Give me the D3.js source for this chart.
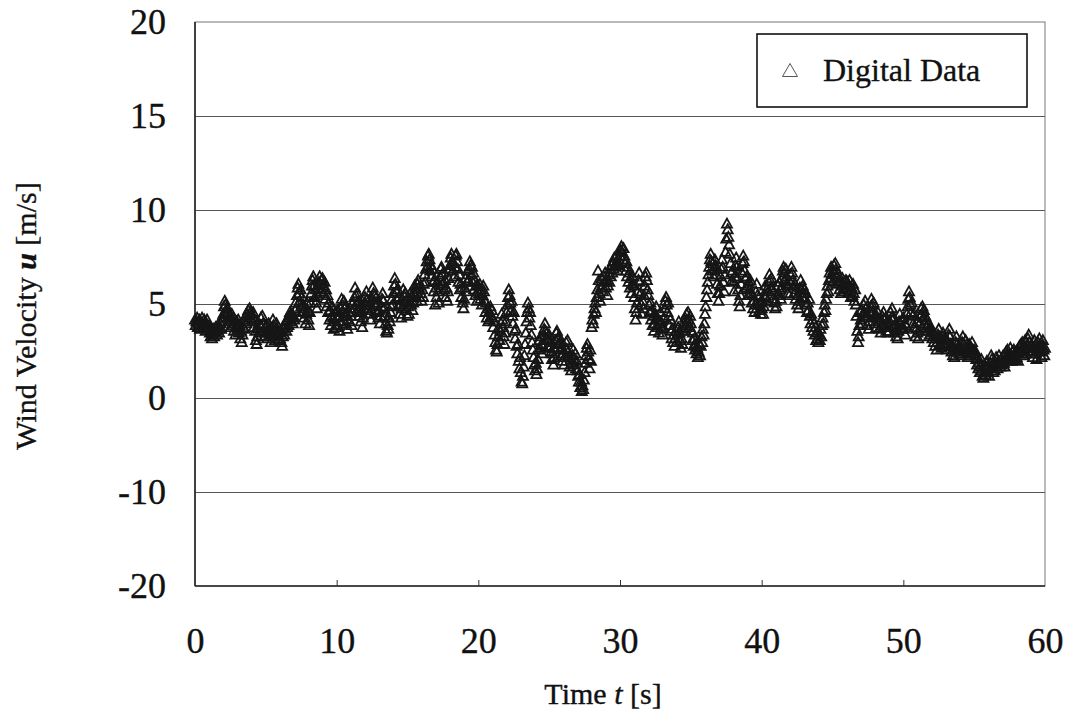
<!DOCTYPE html>
<html>
<head>
<meta charset="utf-8">
<script src="https://cdn.jsdelivr.net/npm/d3@7/dist/d3.min.js"></script>
<style>
  html, body { margin: 0; padding: 0; background: #fff; }
  svg { display: block; font-family: "Liberation Serif", "Times New Roman", serif; }
  text { stroke: #111; stroke-width: 0.35px; }
</style>
</head>
<body>
<svg id="chart" width="1071" height="719"></svg>
<script>
// Wind velocity record, sampled every 0.05 s from t = 0 s to t = 60 s (one row per second)
const timeStart = 0;
const timeStep = 0.05;
const velocity = [
  4.2,3.9,4.1,4.3,3.8,4.0,4.2,3.7,4.1,3.9,4.3,4.0,3.8,4.2,3.9,3.6,4.0,4.2,3.8,3.7,
  3.9,3.5,3.3,3.6,3.2,3.4,3.7,3.3,3.5,3.8,3.6,3.4,3.9,3.7,3.5,3.8,4.0,3.7,4.1,4.3,
  4.5,4.9,5.2,5.0,4.6,4.8,4.3,4.6,4.1,4.4,3.8,4.2,4.5,3.9,4.3,3.6,4.0,3.4,3.8,4.1,
  3.7,4.2,3.5,3.9,3.2,3.6,3.0,3.4,3.8,4.1,3.7,4.3,4.0,4.5,4.2,4.7,4.4,4.8,4.6,4.3,
  4.5,4.1,4.6,3.8,4.2,3.6,3.1,2.9,3.3,3.7,4.0,3.5,3.9,4.3,3.8,4.4,4.0,3.6,3.3,3.8,
  3.5,3.9,3.2,3.6,4.0,3.7,3.3,3.0,3.4,3.8,4.2,3.9,3.5,3.1,3.6,4.0,3.7,3.4,3.1,3.5,
  3.2,3.6,3.0,2.8,3.3,3.7,3.4,3.9,4.1,3.6,3.8,4.2,3.9,4.4,4.6,4.1,4.5,4.3,4.0,4.4,
  4.2,4.7,5.1,4.8,5.5,5.9,6.1,5.6,5.2,5.8,4.9,5.4,4.6,5.0,4.3,4.8,4.0,4.5,5.1,4.7,
  4.2,3.9,4.6,5.1,5.6,6.0,6.3,6.5,6.0,5.4,5.8,5.1,4.8,5.5,5.9,6.2,6.5,6.1,5.7,6.3,
  6.4,6.0,5.6,6.2,5.3,5.8,4.9,5.5,4.6,5.1,4.2,4.7,3.9,4.4,4.9,4.3,3.7,4.1,4.6,3.8,
  4.3,4.7,3.9,4.4,3.6,4.1,4.8,5.3,5.0,4.6,5.2,4.4,4.9,4.0,4.5,3.7,4.2,4.6,4.1,4.8,
  4.4,3.9,4.6,5.1,4.8,5.4,5.9,5.5,5.0,5.6,4.7,5.2,4.4,4.9,4.1,4.6,3.8,4.3,4.8,5.1,
  5.4,5.0,5.7,5.3,4.8,5.2,4.5,5.0,4.2,4.7,5.3,5.9,5.6,5.1,5.5,4.9,5.4,4.6,5.1,4.3,
  4.7,4.0,4.4,4.9,5.3,5.6,5.2,4.8,4.4,4.0,3.6,3.5,3.9,3.7,4.3,4.1,4.6,4.9,5.3,5.0,
  5.6,6.0,6.4,6.1,5.7,5.3,5.8,4.9,5.4,4.5,5.0,4.3,4.8,5.3,5.8,5.5,5.1,5.6,4.7,5.2,
  4.4,4.9,4.5,5.2,5.6,5.0,5.4,4.7,5.1,5.7,6.0,5.5,5.8,5.2,6.1,6.3,5.9,5.4,6.0,5.6,
  5.2,5.8,5.4,6.1,6.6,6.2,6.9,7.3,7.0,7.6,7.7,7.4,6.8,7.1,6.5,6.9,6.2,5.7,6.3,5.0,
  5.9,5.4,6.2,5.7,5.1,6.0,6.5,6.9,7.0,6.6,6.1,6.7,5.8,6.3,5.4,5.9,5.2,5.7,6.4,6.9,
  7.1,7.5,7.7,7.3,6.8,7.2,6.5,7.0,7.6,7.7,7.3,6.9,6.2,6.6,5.8,6.1,5.4,5.9,5.1,4.8,
  5.3,5.9,6.4,5.7,6.2,6.8,6.3,6.9,7.3,7.1,6.6,7.0,6.2,6.7,5.8,6.3,5.5,6.0,5.2,5.7,
  6.0,5.6,6.1,5.3,5.8,5.0,5.5,6.0,5.7,5.2,4.6,5.1,4.3,4.8,4.1,4.6,4.2,4.9,4.4,4.7,
  4.3,3.8,4.1,3.4,3.0,2.6,2.5,2.9,3.3,3.7,3.1,3.6,4.0,4.5,4.2,3.8,3.3,2.9,3.5,4.1,
  4.6,5.0,5.4,5.8,5.5,5.1,4.7,5.2,4.4,4.0,4.6,3.6,3.2,3.7,2.8,2.4,2.9,2.0,1.6,2.2,
  1.4,0.9,0.8,1.2,1.7,2.3,2.9,3.5,4.1,4.6,5.1,4.8,4.3,4.6,3.9,3.4,3.0,2.6,2.2,1.8,
  1.5,1.9,1.3,1.6,2.1,2.6,3.1,2.7,3.3,2.9,2.4,2.8,3.4,3.7,4.0,3.6,3.2,3.5,2.8,3.1,
  3.4,2.7,3.0,2.5,2.1,2.4,1.8,2.2,2.7,3.1,3.5,3.6,3.2,2.9,3.3,2.6,3.0,2.3,2.7,2.0,
  2.4,1.8,2.2,2.7,3.0,2.6,3.1,2.5,2.2,1.7,2.0,1.5,1.9,2.3,2.6,2.1,1.8,2.4,1.6,2.0,
  1.5,1.2,0.9,1.3,0.6,0.9,0.4,0.7,0.5,1.0,1.4,1.9,2.3,2.7,2.9,2.5,2.1,1.6,2.6,2.0,
  3.8,4.2,4.0,4.5,4.8,5.1,4.6,5.4,5.8,6.8,6.3,5.6,5.2,5.9,6.4,6.0,5.7,6.5,6.2,6.7,
  5.9,6.3,5.5,6.0,6.6,6.2,6.9,6.5,7.1,6.7,7.3,6.9,7.5,7.0,7.2,7.6,7.3,6.8,7.4,7.1,
  7.6,7.9,8.1,7.8,7.4,8.0,7.6,7.2,6.8,7.3,6.5,7.0,6.2,6.7,5.9,6.4,5.6,6.1,6.5,6.0,
  5.4,4.8,4.2,4.6,5.1,5.7,6.3,6.7,6.2,5.6,5.0,4.5,5.2,4.8,5.5,6.0,6.5,6.7,6.3,5.8,
  5.5,5.0,4.6,5.1,4.2,4.7,3.9,4.4,3.6,4.0,4.5,4.9,4.3,3.8,4.2,3.5,4.0,4.6,4.1,3.7,
  3.4,3.8,4.3,4.8,5.2,5.4,5.0,4.6,5.1,4.4,3.9,4.2,3.6,3.2,3.7,3.0,3.4,2.8,3.2,3.6,
  3.0,3.4,3.8,4.1,3.5,3.1,2.7,3.2,2.9,3.6,4.0,3.7,4.3,3.9,4.5,4.1,4.6,4.2,3.8,4.4,
  4.0,3.6,3.1,3.5,2.8,3.2,2.6,2.9,2.4,2.7,2.2,2.5,2.9,2.3,2.8,3.3,3.0,3.7,3.4,4.0,
  4.5,4.9,5.4,5.8,6.2,6.6,7.0,7.4,7.7,7.3,6.8,7.2,6.5,6.9,7.4,7.1,6.6,6.1,5.6,5.2,
  5.6,6.0,6.5,6.9,7.4,7.0,6.2,5.7,6.6,7.8,8.5,9.3,9.0,8.6,8.2,7.7,7.2,6.7,6.3,6.8,
  6.2,5.7,6.5,7.1,7.5,7.0,6.4,5.8,5.2,4.9,5.5,6.1,6.7,7.2,7.6,7.3,6.8,6.4,5.9,6.5,
  6.0,5.5,6.2,5.8,6.3,5.6,5.1,5.5,4.8,5.2,4.6,5.0,5.7,6.1,5.5,5.0,5.4,4.7,5.1,4.5,
  4.8,5.2,4.5,4.9,5.5,6.0,5.4,5.8,5.2,5.7,6.2,6.6,6.3,5.9,6.4,5.8,5.3,5.7,5.1,4.8,
  5.2,4.9,5.5,6.0,5.6,6.2,5.8,5.3,5.9,6.4,6.8,7.0,6.7,6.3,6.9,6.5,6.1,5.6,6.0,5.5,
  6.2,6.6,7.0,6.7,6.3,6.0,5.6,6.1,5.3,5.8,5.0,5.5,4.8,5.2,5.9,6.3,5.8,5.4,6.0,5.6,
  5.8,5.3,5.6,5.0,4.6,5.1,4.7,5.3,4.4,4.0,4.5,3.8,4.2,3.6,4.0,3.4,3.8,3.1,3.5,3.2,
  3.0,3.4,3.1,3.7,3.3,3.9,4.3,4.0,4.6,5.0,4.7,5.3,5.6,6.0,5.7,6.3,6.7,6.4,7.0,6.6,
  6.2,6.8,7.1,6.7,7.2,6.9,6.5,6.1,6.6,6.3,5.8,6.2,5.6,6.0,6.4,6.1,5.7,6.2,5.9,6.3,
  5.8,6.2,5.6,6.0,6.3,5.7,5.4,5.9,5.5,6.1,5.6,5.2,5.8,5.0,4.4,3.6,3.0,3.3,3.9,4.6,
  4.2,4.7,4.0,4.5,5.0,4.6,5.2,4.8,4.3,3.9,4.4,3.7,4.1,4.6,4.9,5.3,5.0,4.6,5.1,4.4,
  4.0,4.5,3.8,4.3,4.6,4.1,3.7,4.2,3.5,3.9,4.4,4.0,4.6,4.2,3.8,4.3,3.6,4.1,3.5,3.9,
  3.6,4.1,4.6,4.3,4.8,4.2,3.8,4.3,3.5,4.0,3.3,3.7,3.2,3.6,4.1,4.5,4.0,3.7,4.2,3.8,
  4.3,3.7,4.0,3.4,3.9,4.5,4.9,5.3,5.7,5.4,5.0,4.6,5.1,4.4,4.0,4.5,3.8,3.3,3.7,4.1,
  3.5,3.2,3.6,4.0,4.4,4.8,4.5,4.9,4.3,4.7,4.0,4.4,3.8,4.2,3.6,3.9,3.3,3.7,3.4,3.8,
  3.6,3.2,3.5,3.0,3.4,2.8,3.2,2.6,3.0,3.4,3.7,3.3,2.9,3.2,2.7,3.1,3.5,3.1,2.8,3.2,
  2.8,3.1,2.6,3.0,3.4,3.7,3.3,2.9,2.5,2.8,2.3,2.7,2.2,2.6,3.0,3.3,2.9,2.5,2.8,2.4,
  2.7,2.3,2.6,3.0,3.3,2.9,2.5,2.8,3.1,2.7,2.4,2.2,2.6,2.9,2.5,2.3,2.7,3.0,2.6,2.4,
  2.6,2.3,2.5,2.1,1.8,2.2,1.6,1.9,1.4,1.7,2.1,1.5,1.2,1.1,1.4,1.8,1.3,1.6,2.0,1.7,
  1.4,1.2,1.6,1.9,2.3,2.1,1.7,1.4,1.8,1.5,1.9,2.2,1.8,1.6,2.0,2.3,1.9,1.7,2.1,1.8,
  2.0,2.3,1.9,1.7,2.1,2.5,2.2,2.6,2.3,2.0,2.4,2.7,2.3,2.0,2.5,2.2,2.6,2.4,2.1,2.5,
  2.2,2.6,2.0,2.4,2.8,2.5,2.9,2.6,3.0,2.7,2.3,2.8,3.1,2.7,2.4,2.9,3.2,3.4,3.0,2.7,
  2.4,2.9,2.5,2.2,2.7,3.1,2.8,2.4,2.1,2.6,3.0,2.7,3.2,2.9,2.5,2.2,2.8,3.1,2.6,2.3,
  2.7
];

// Axis ticks and their printed labels
const xTickValues = [0, 10, 20, 30, 40, 50, 60];
const yTickValues = [20, 15, 10, 5, 0, -5, -10];
const yTickLabels = ["20", "15", "10", "5", "0", "-10", "-20"];
const seriesName = "Digital Data";

const svg = d3.select("#chart");
const plot = { left: 195, right: 1045, top: 22, bottom: 586 };

const x = d3.scaleLinear().domain([0, 60]).range([plot.left, plot.right]);
const y = d3.scaleLinear().domain([-10, 20]).range([plot.bottom, plot.top]);

const points = velocity.map((v, i) => ({ t: timeStart + i * timeStep, v }));

// horizontal grid lines
svg.append("g")
  .attr("transform", `translate(${plot.left},0)`)
  .call(d3.axisLeft(y).tickValues(yTickValues.filter(d => d > -10 && d < 20))
    .tickSize(-(plot.right - plot.left)).tickFormat(""))
  .call(g => g.select(".domain").remove())
  .call(g => g.selectAll("line").attr("stroke", "#555").attr("stroke-width", 1));

// plot frame
svg.append("rect")
  .attr("x", plot.left).attr("y", plot.top)
  .attr("width", plot.right - plot.left).attr("height", plot.bottom - plot.top)
  .attr("fill", "none").attr("stroke", "#777").attr("stroke-width", 1);
svg.append("line")
  .attr("x1", plot.left).attr("x2", plot.left).attr("y1", plot.top).attr("y2", plot.bottom)
  .attr("stroke", "#222").attr("stroke-width", 1.6);
svg.append("line")
  .attr("x1", plot.left).attr("x2", plot.right).attr("y1", plot.bottom).attr("y2", plot.bottom)
  .attr("stroke", "#222").attr("stroke-width", 1.4);

// short inward ticks on the time axis
svg.append("g")
  .attr("transform", `translate(0,${plot.bottom})`)
  .call(d3.axisBottom(x).tickValues(xTickValues.slice(1, -1)).tickSize(-6).tickFormat(""))
  .call(g => g.select(".domain").remove())
  .call(g => g.selectAll("line").attr("stroke", "#333").attr("stroke-width", 1));

// tick labels
svg.append("g")
  .attr("transform", `translate(${plot.left},0)`)
  .call(d3.axisLeft(y).tickValues(yTickValues).tickSize(0).tickPadding(29)
    .tickFormat((d, i) => yTickLabels[i]))
  .call(g => g.select(".domain").remove())
  .call(g => g.selectAll("text")
    .attr("font-family", "'Liberation Serif', 'Times New Roman', serif")
    .attr("font-size", 36).attr("fill", "#111"));

svg.append("g")
  .attr("transform", `translate(0,${plot.bottom})`)
  .call(d3.axisBottom(x).tickValues(xTickValues).tickSize(0).tickPadding(41)
    .tickFormat(d3.format("d")))
  .call(g => g.select(".domain").remove())
  .call(g => g.selectAll("text")
    .attr("font-family", "'Liberation Serif', 'Times New Roman', serif")
    .attr("font-size", 36).attr("fill", "#111"));

// axis titles
const xTitle = svg.append("text")
  .attr("x", 603).attr("y", 704)
  .attr("text-anchor", "middle").attr("font-size", 30).attr("fill", "#111");
xTitle.append("tspan").text("Time ");
xTitle.append("tspan").attr("font-style", "italic").text("t");
xTitle.append("tspan").text(" [s]");

const yTitle = svg.append("text")
  .attr("transform", "translate(36,316) rotate(-90)")
  .attr("text-anchor", "middle").attr("font-size", 30).attr("fill", "#111");
yTitle.append("tspan").text("Wind Velocity ");
yTitle.append("tspan").attr("font-style", "italic").attr("font-weight", "bold").text("u");
yTitle.append("tspan").text(" [m/s]");

// open triangle marker centred on (0,0)
function trianglePath(w, h) {
  return `M0,${-h / 2}L${w / 2},${h / 2}L${-w / 2},${h / 2}Z`;
}

// data markers
svg.append("g")
  .selectAll("path")
  .data(points)
  .join("path")
  .attr("d", trianglePath(10, 9))
  .attr("transform", d => `translate(${x(d.t)},${y(d.v)})`)
  .attr("fill", "none")
  .attr("stroke", "#161616")
  .attr("stroke-width", 1.8);

// legend
const legend = svg.append("g");
legend.append("rect")
  .attr("x", 757).attr("y", 34).attr("width", 270).attr("height", 73)
  .attr("fill", "#fff").attr("stroke", "#111").attr("stroke-width", 1.6);
legend.append("path")
  .attr("d", trianglePath(15, 13))
  .attr("transform", "translate(790,70)")
  .attr("fill", "none").attr("stroke", "#555").attr("stroke-width", 1);
legend.append("text")
  .attr("x", 823).attr("y", 81)
  .attr("font-size", 32).attr("fill", "#111")
  .text(seriesName);
</script>
</body>
</html>
